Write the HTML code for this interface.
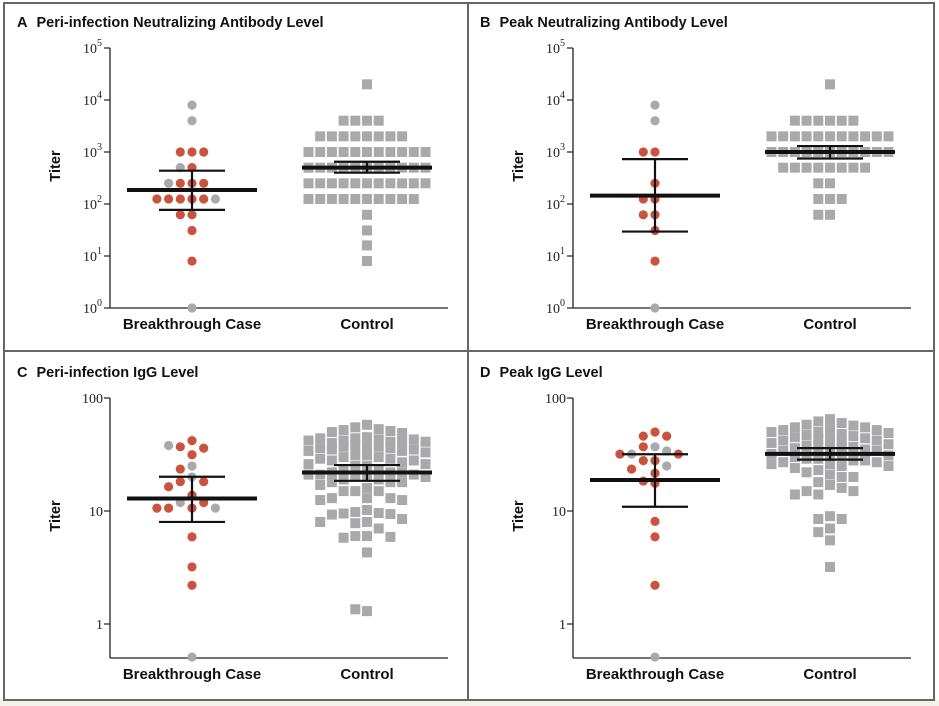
<!DOCTYPE html>
<html><head><meta charset="utf-8">
<style>
body{margin:0;background:#fff;}
svg{display:block;font-family:"Liberation Sans",sans-serif;}
.title{font-weight:bold;font-size:14.5px;fill:#111;}
.tick{font-family:"Liberation Serif",serif;font-size:14px;fill:#222;}
.cat{font-weight:bold;font-size:15px;fill:#111;}
</style></head>
<body>
<svg id="chart" width="939" height="706" viewBox="0 0 939 706">
<rect x="0" y="0" width="939" height="706" fill="#fff"/>
<rect x="0" y="700" width="939" height="6" fill="#f3f1ec"/>
<g stroke="#666" stroke-width="2" fill="none">
<rect x="4" y="3" width="930" height="697"/>
<line x1="468" y1="3" x2="468" y2="700"/>
<line x1="4" y1="351" x2="934" y2="351"/>
</g>
</svg>
<script>
// ---- data ----
const categories = ["Breakthrough Case", "Control"];
const aBreakVals = [8000,4000,1000,1000,1000,500,500,250,250,250,250,125,125,125,125,125,125,62,62,31,8,1];
const aBreakColors = ["g","g","r","r","r","r","g","r","r","r","g","r","r","r","r","g","r","r","r","r","r","g"];
const aCtrlVals = [20000,4000,4000,4000,4000,2000,2000,2000,2000,2000,2000,2000,2000,
 1000,1000,1000,1000,1000,1000,1000,1000,1000,1000,1000,
 500,500,500,500,500,500,500,500,500,500,500,
 250,250,250,250,250,250,250,250,250,250,250,
 125,125,125,125,125,125,125,125,125,125,62,31,16,8];
const aBreakStats = [186,77,437]; // mean, low CI, high CI
const aCtrlStats = [500,400,650];

const bBreakVals = [8000,4000,1000,1000,250,125,125,62,62,31,8,1];
const bBreakColors = ["g","g","r","r","r","r","r","r","r","r","r","g"];
const bCtrlVals = [20000,4000,4000,4000,4000,4000,4000,
 2000,2000,2000,2000,2000,2000,2000,2000,2000,2000,2000,
 1000,1000,1000,1000,1000,1000,1000,1000,1000,1000,1000,
 500,500,500,500,500,500,500,500,250,250,125,125,125,62,62];
const bBreakStats = [145,29.5,730];
const bCtrlStats = [1000,750,1300];

const cBreakVals = [42,37,36,38,31.5,25,23.5,20,18.2,18.2,16.4,13.8,11.9,11.9,10.6,10.6,10.6,10.6,5.9,3.2,2.2,0.51];
const cBreakColors = ["r","r","r","g","r","g","r","g","r","r","r","r","g","r","r","r","g","r","r","r","r","g"];
const cCtrlVals = [58,55,53,52,51,50,49,45,44,44,43,43,42,42,41,41,40,40,38,38,37,37,36,36,35,35,34,34,33,
 31,31,30,30,29,29,28,28,27,26,26,25,25,23,23,22,22,22,21,21,21,20,20,20,19,19,18,18,18,17,
 16,15,15,15,13,13,13,12.5,12.5,10.2,9.8,9.6,9.5,9.4,9.3,8.5,8,8,7.8,7,6,6,5.8,5.9,4.3,1.3,1.35];
const cBreakStats = [12.9,8.0,20.1];
const cCtrlStats = [21.9,18.5,25.5];

const dBreakVals = [50,46,46,37,37,34,31.9,31.9,31.9,27.9,27.9,25,23.5,21.6,17.6,18.4,8.1,5.9,2.2,0.51];
const dBreakColors = ["r","r","r","g","r","g","g","r","r","r","r","g","r","r","r","r","r","r","r","g"];
const dCtrlVals = [65,62,60,58,57,55,55,53,52,52,50,50,49,48,47,46,46,45,44,43,42,42,41,40,40,39,38,38,37,36,36,35,35,34,34,33,33,32,32,31,31,30,30,29,29,28,28,27,27,26,26,25,25,24,23,22,21,20,20,18,17,16,15,15,14,14,9,8.5,8.5,7,6.5,5.5,3.2];
const dBreakStats = [18.8,10.9,31.8];
const dCtrlStats = [32,28.5,36];

const nabTicks = ["0","1","2","3","4","5"];
const iggTickVals = [1,10,100];
const iggTickLabels = ["1","10","100"];

// ---- rendering ----
const NS = "http://www.w3.org/2000/svg";
const svg = document.getElementById("chart");
function mk(tag, attrs, parent){
  const e = document.createElementNS(NS, tag);
  for (const k in attrs) e.setAttribute(k, attrs[k]);
  (parent||svg).appendChild(e);
  return e;
}
const RED = "#c9533c", GRAY = "#a9a9ab";

function panel(p){
  const g = mk("g", {});
  
  
  const ox = p.ox, oy = p.oy;
  const axX = ox + 110, top = oy + 48, bottom = oy + 308;
  const ys = v => top + (p.maxLog - Math.log10(v)) * p.perDec;
  const cx = [ox + 192, ox + 367];
  const t = mk("text", {x: ox + 17, y: oy + 27, class: "title"}, g);
  
  
  t.innerHTML = p.letter + '<tspan dx="9">' + p.title + '</tspan>';
  const yt = mk("text", {x: 0, y: 0, class: "title", transform: `translate(${ox+60},${oy+166}) rotate(-90)`, "text-anchor": "middle"}, g);
  yt.textContent = "Titer";
  
  
  const ya = mk("line", {x1: axX, y1: top, x2: axX, y2: bottom, stroke: "#222", "stroke-width": 1.3}, g);
  
  
  const xa = mk("line", {x1: axX, y1: bottom, x2: ox + 448, y2: bottom, stroke: "#222", "stroke-width": 1.3}, g);
  
  
  if (p.type === "nab") {
    nabTicks.forEach(e => {
      const y = ys(Math.pow(10, +e));
      mk("line", {x1: axX - 6, y1: y, x2: axX, y2: y, stroke: "#222", "stroke-width": 1.2}, g);
      const tl = mk("text", {x: axX - 8, y: y + 5, class: "tick", "text-anchor": "end"}, g);
      
      
      tl.innerHTML = '10<tspan dy="-7" font-size="10">' + e + '</tspan>';
    });
  } else {
    iggTickVals.forEach((v, i) => {
      const y = ys(v);
      mk("line", {x1: axX - 6, y1: y, x2: axX, y2: y, stroke: "#222", "stroke-width": 1.2}, g);
      const tl = mk("text", {x: axX - 7, y: y + 5, class: "tick", "text-anchor": "end"}, g);
      
      
      tl.textContent = iggTickLabels[i];
    });
  }
  categories.forEach((c, i) => {
    const cl = mk("text", {x: cx[i], y: oy + 329, class: "cat", "text-anchor": "middle"}, g);
    
    
    cl.textContent = c;
  });
  function swarm(vals, center, maxK){
    const placed = [], sp = 11.7;
    const dys = [10, 6, 3.5, 1.5, 0];
    return vals.map(v => {
      const y = Math.min(ys(v), bottom);
      for (const dy of dys){
        for (let n = 0; n <= maxK * 2; n++){
          const k = n === 0 ? 0 : (n % 2 ? -Math.ceil(n/2) : n/2);
          const x = center + k * sp;
          if (!placed.some(q => Math.abs(q.x - x) < sp - 0.5 && Math.abs(q.y - y) < dy)) {
            placed.push({x, y}); return {x, y};
          }
        }
      }
      placed.push({x: center, y});
      return {x: center, y};
    });
  }
  const cpos = swarm(p.ctrl, cx[1], 5);
  cpos.forEach(q => {
    const r = mk("rect", {x: q.x - 5, y: q.y - 5, width: 10, height: 10, fill: GRAY}, g);
    
    
  });
  const bpos = swarm(p.brk, cx[0], 4);
  bpos.forEach((q, i) => {
    const c = mk("circle", {cx: q.x, cy: q.y, r: 4.6, fill: p.brkCol[i] === "r" ? RED : GRAY}, g);
    
    
  });
  [p.brkStats, p.ctrlStats].forEach((s, i) => {
    const x = cx[i];
    const m = mk("line", {x1: x - 65, y1: ys(s[0]), x2: x + 65, y2: ys(s[0]), stroke: "#111", "stroke-width": 4}, g);
    
    
    const v = mk("line", {x1: x, y1: ys(s[1]), x2: x, y2: ys(s[2]), stroke: "#111", "stroke-width": 2.2}, g);
    
    
    [s[1], s[2]].forEach(b => {
      const h = mk("line", {x1: x - 33, y1: ys(b), x2: x + 33, y2: ys(b), stroke: "#111", "stroke-width": 2.2}, g);
      
      
    });
  });
}

panel({letter:"A", title:"Peri-infection Neutralizing Antibody Level", ox:0, oy:0, type:"nab", maxLog:5, perDec:52,
  brk:aBreakVals, brkCol:aBreakColors, ctrl:aCtrlVals, brkStats:aBreakStats, ctrlStats:aCtrlStats});
panel({letter:"B", title:"Peak Neutralizing Antibody Level", ox:463, oy:0, type:"nab", maxLog:5, perDec:52,
  brk:bBreakVals, brkCol:bBreakColors, ctrl:bCtrlVals, brkStats:bBreakStats, ctrlStats:bCtrlStats});
panel({letter:"C", title:"Peri-infection IgG Level", ox:0, oy:350, type:"igg", maxLog:2, perDec:113,
  brk:cBreakVals, brkCol:cBreakColors, ctrl:cCtrlVals, brkStats:cBreakStats, ctrlStats:cCtrlStats});
panel({letter:"D", title:"Peak IgG Level", ox:463, oy:350, type:"igg", maxLog:2, perDec:113,
  brk:dBreakVals, brkCol:dBreakColors, ctrl:dCtrlVals, brkStats:dBreakStats, ctrlStats:dCtrlStats});
</script>
</body></html>
